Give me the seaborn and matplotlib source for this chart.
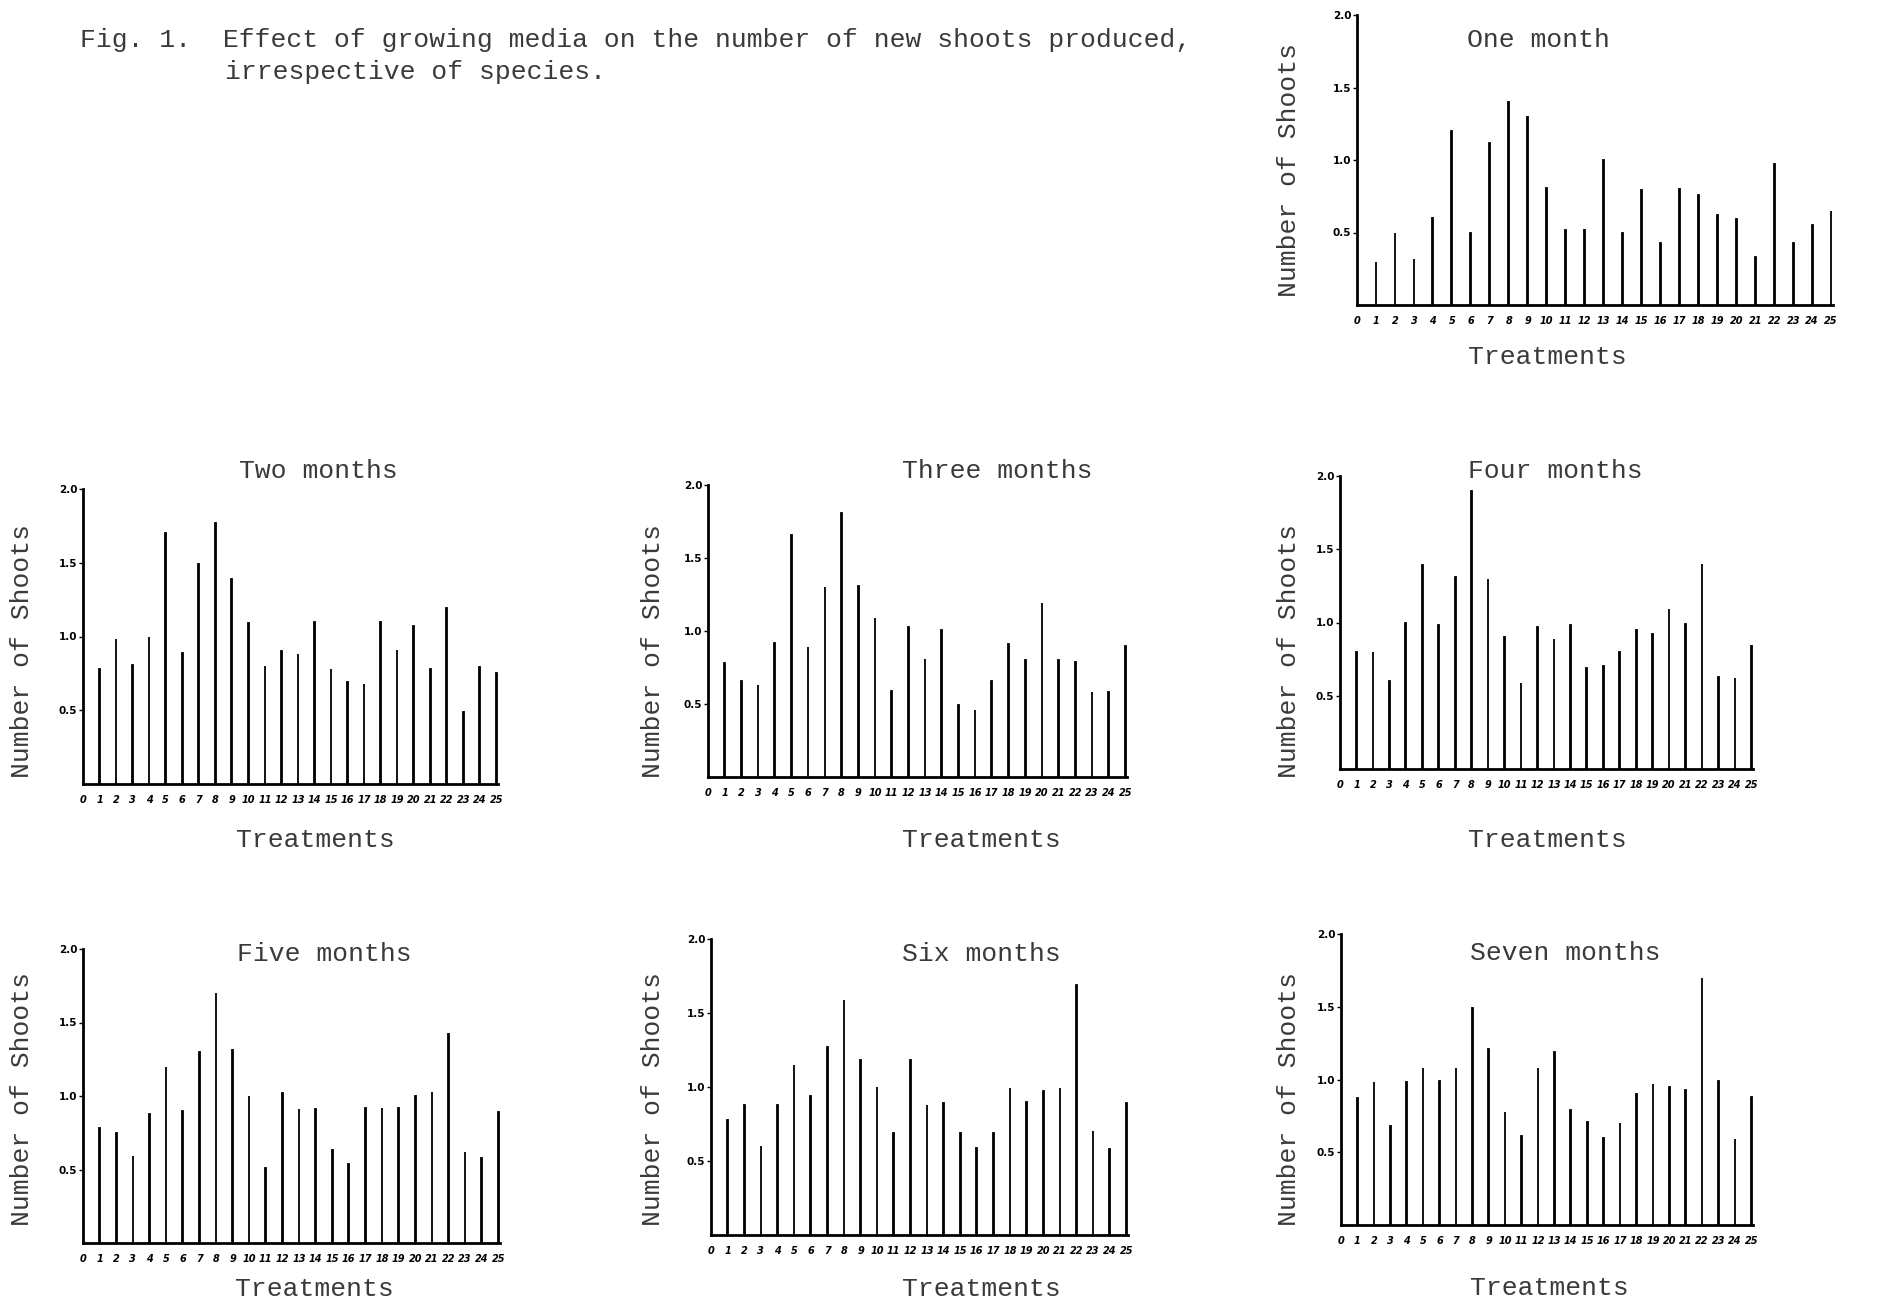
import numpy as np
import pandas as pd
import matplotlib
matplotlib.use('Agg')
import matplotlib.pyplot as plt
import seaborn as sns

# mean number of new shoots per treatment
treatments = [1, 2, 3, 4, 5, 6, 7, 8, 9, 10, 11, 12, 13,
              14, 15, 16, 17, 18, 19, 20, 21, 22, 23, 24, 25]

one_month = [0.30, 0.50, 0.32, 0.60, 1.20, 0.50, 1.12, 1.40, 1.30, 0.81, 0.52, 0.52, 1.00,
             0.50, 0.79, 0.43, 0.80, 0.76, 0.62, 0.59, 0.33, 0.97, 0.43, 0.55, 0.65]
two_months = [0.78, 0.98, 0.81, 1.00, 1.70, 0.89, 1.49, 1.77, 1.39, 1.09, 0.80, 0.90, 0.88,
              1.10, 0.78, 0.69, 0.68, 1.10, 0.91, 1.07, 0.78, 1.19, 0.49, 0.79, 0.75]
three_months = [0.78, 0.66, 0.63, 0.92, 1.66, 0.89, 1.30, 1.81, 1.31, 1.09, 0.59, 1.03, 0.81,
                1.01, 0.49, 0.46, 0.66, 0.91, 0.80, 1.19, 0.80, 0.79, 0.58, 0.58, 0.90]
four_months = [0.80, 0.80, 0.60, 1.00, 1.39, 0.98, 1.31, 1.90, 1.30, 0.90, 0.59, 0.97, 0.89,
               0.98, 0.69, 0.70, 0.80, 0.95, 0.92, 1.09, 0.99, 1.40, 0.63, 0.62, 0.84]
five_months = [0.78, 0.75, 0.59, 0.88, 1.20, 0.90, 1.30, 1.70, 1.31, 1.00, 0.51, 1.02, 0.91,
               0.91, 0.63, 0.54, 0.92, 0.92, 0.92, 1.00, 1.03, 1.42, 0.62, 0.58, 0.89]
six_months = [0.78, 0.88, 0.60, 0.88, 1.15, 0.94, 1.27, 1.59, 1.18, 1.00, 0.69, 1.18, 0.88,
              0.89, 0.69, 0.59, 0.69, 0.99, 0.90, 0.97, 0.99, 1.69, 0.70, 0.58, 0.89]
seven_months = [0.87, 0.98, 0.68, 0.98, 1.08, 0.99, 1.08, 1.49, 1.21, 0.78, 0.61, 1.08, 1.19,
                0.79, 0.71, 0.60, 0.70, 0.90, 0.97, 0.95, 0.93, 1.70, 0.99, 0.59, 0.88]

panel_titles = ['One month', 'Two months', 'Three months', 'Four months',
                'Five months', 'Six months', 'Seven months']
panel_values = [one_month, two_months, three_months, four_months,
                five_months, six_months, seven_months]

ytick_values = [0.5, 1.0, 1.5, 2.0]
ytick_labels = ['0.5', '1.0', '1.5', '2.0']
xtick_values = [0] + treatments

caption_1 = 'Fig. 1.  Effect of growing media on the number of new shoots produced,'
caption_2 = 'irrespective of species.'

sns.set_style('white')
plt.rcParams['font.family'] = ['Liberation Mono', 'DejaVu Sans Mono']

W, H = 1880, 1304
fig = plt.figure(figsize=(W / 100, H / 100), dpi=100)
fig.patch.set_facecolor('white')

# axes boxes in pixels: left, top (y=2.0), right (x=25), bottom (y=0)
boxes = [
    (1357, 15, 1833, 305),
    (83, 489, 498, 784),
    (708, 485, 1127, 777),
    (1340, 476, 1753, 769),
    (83, 949, 500, 1243),
    (711, 939, 1128, 1235),
    (1341, 934, 1753, 1225),
]
title_pos = [(1538, 40), (318, 471), (997, 471), (1555, 471),
             (324, 954), (981, 954), (1565, 953)]
ylab_pos = [(1289, 170), (22, 651), (653, 651), (1289, 651),
            (22, 1099), (653, 1099), (1289, 1099)]
xlab_pos = [(1547, 357), (315, 840), (981, 840), (1547, 840),
            (314, 1289), (981, 1289), (1549, 1288)]

text_color = '#3a3a3a'
big = 19

for i, (title, vals) in enumerate(zip(panel_titles, panel_values)):
    l, t, r, b = boxes[i]
    ax = fig.add_axes([l / W, 1 - b / H, (r - l) / W, (b - t) / H])
    df = pd.DataFrame({'treatment': treatments, 'shoots': vals})
    sns.barplot(data=df, x='treatment', y='shoots', native_scale=True,
                width=0.04, color='black', errorbar=None, ax=ax,
                edgecolor='black', linewidth=1.3)
    ax.set_xlim(0, 25.1)
    ax.set_ylim(0, 2.0)
    ax.set_xticks(xtick_values)
    ax.set_xticklabels([str(v) for v in xtick_values], fontsize=7,
                       fontstyle='italic', fontweight='bold',
                       family='DejaVu Sans')
    ax.set_yticks(ytick_values)
    ax.set_yticklabels(ytick_labels, fontsize=7.5, fontweight='bold',
                       family='DejaVu Sans')
    ax.tick_params(axis='x', length=0, pad=8, colors='black')
    ax.tick_params(axis='y', length=3, width=1, pad=1, direction='out',
                   colors='black', left=True)
    ax.set_xlabel('')
    ax.set_ylabel('')
    for side in ['top', 'right']:
        ax.spines[side].set_visible(False)
    for side in ['left', 'bottom']:
        ax.spines[side].set_linewidth(2)
        ax.spines[side].set_color('black')
    ax.set_facecolor('none')

    tx, ty = title_pos[i]
    fig.text(tx / W, 1 - ty / H, title, ha='center', va='center',
             fontsize=big, color=text_color)
    yx, yy = ylab_pos[i]
    fig.text(yx / W, 1 - yy / H, 'Number of Shoots', ha='center', va='center',
             rotation=90, fontsize=big, color=text_color)
    xx, xy = xlab_pos[i]
    fig.text(xx / W, 1 - xy / H, 'Treatments', ha='center', va='center',
             fontsize=big, color=text_color)

fig.text(80 / W, 1 - 40 / H, caption_1, ha='left', va='center',
         fontsize=big, color=text_color)
fig.text(225 / W, 1 - 72 / H, caption_2, ha='left', va='center',
         fontsize=big, color=text_color)

fig.savefig('out.png', dpi=100, facecolor='white')
